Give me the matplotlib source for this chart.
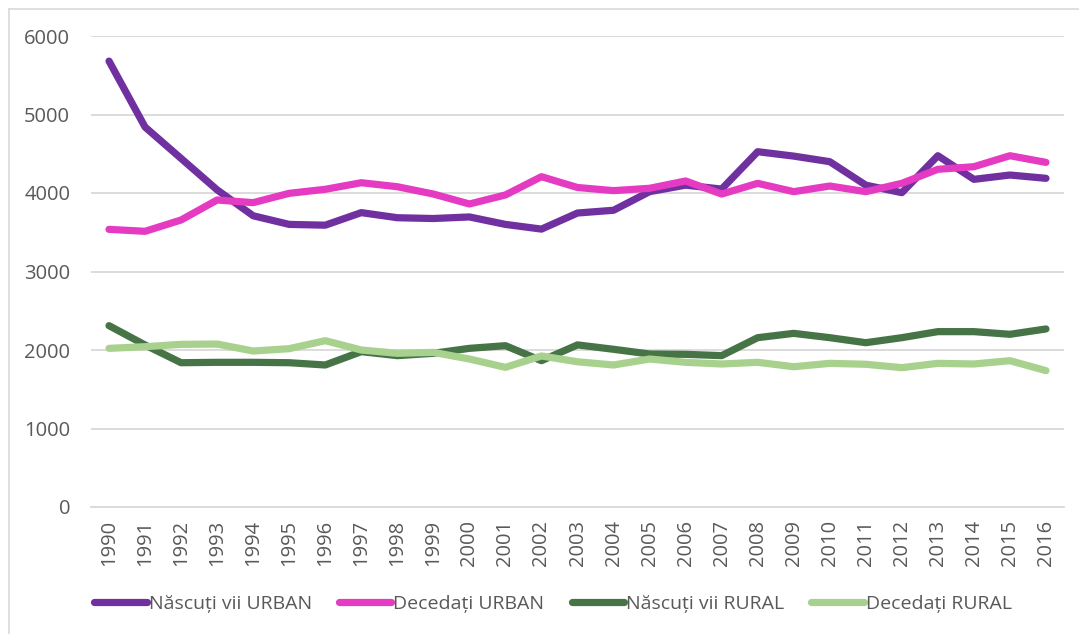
import matplotlib
matplotlib.use("Agg")
import matplotlib.pyplot as plt
from matplotlib.lines import Line2D

years = [str(y) for y in range(1990, 2017)]

nascuti_urban = [5680, 4840, 4440, 4040, 3710, 3600, 3590, 3750, 3685, 3675, 3695, 3600,
                 3540, 3745, 3780, 4017, 4100, 4050, 4526, 4470, 4399, 4100, 4004, 4475,
                 4174, 4229, 4187]
decedati_urban = [3537, 3512, 3656, 3911, 3877, 3996, 4047, 4131, 4080, 3987, 3860, 3975,
                  4208, 4070, 4030, 4060, 4153, 3987, 4123, 4017, 4089, 4017, 4123, 4302,
                  4335, 4475, 4390]
nascuti_rural = [2310, 2064, 1838, 1843, 1843, 1838, 1809, 1979, 1928, 1958, 2021, 2055,
                 1864, 2065, 2009, 1949, 1945, 1928, 2157, 2212, 2157, 2093, 2157, 2234,
                 2234, 2200, 2268]
decedati_rural = [2021, 2042, 2072, 2076, 1987, 2017, 2119, 2000, 1958, 1970, 1885, 1779,
                  1924, 1850, 1809, 1885, 1843, 1822, 1843, 1787, 1830, 1818, 1775, 1830,
                  1822, 1864, 1737]

series_names = ["Născuți vii URBAN", "Decedați URBAN", "Născuți vii RURAL", "Decedați RURAL"]
series_vals = [nascuti_urban, decedati_urban, nascuti_rural, decedati_rural]
colors = ["#7030A0", "#E53BC3", "#467447", "#A9D18E"]

yticks = [0, 1000, 2000, 3000, 4000, 5000, 6000]

plt.rcParams['font.family'] = ['Open Sans', 'DejaVu Sans']
W, H = 1079, 634
fig = plt.figure(figsize=(W / 100, H / 100), dpi=100)
ax = fig.add_axes([91 / W, 1 - 507 / H, 973 / W, 471 / H])

x = list(range(len(years)))
for name, vals, c in zip(series_names, series_vals, colors):
    ax.plot(x, vals, color=c, lw=5.2, solid_capstyle='round', solid_joinstyle='round', label=name)

ax.set_xlim(-0.5, len(years) - 0.5)
ax.set_ylim(0, 6000)
ax.set_yticks(yticks)
ax.set_yticklabels([str(v) for v in yticks])
ax.set_xticks(x)
ax.set_xticklabels(years, rotation=90)
ax.grid(axis='y', color='#d9d9d9', lw=1.3)
ax.set_axisbelow(True)
for s in ['top', 'right', 'left']:
    ax.spines[s].set_visible(False)
ax.spines['bottom'].set_color('#d9d9d9')
ax.spines['bottom'].set_linewidth(1.3)
ax.tick_params(axis='both', length=0, colors='#595959', labelsize=14.5)
ax.tick_params(axis='y', pad=15)
ax.tick_params(axis='x', pad=9)

# chart frame
fig.add_artist(Line2D([8.5 / W, 8.5 / W], [0, 1 - 8.5 / H], transform=fig.transFigure, color='#d9d9d9', lw=1.2))
fig.add_artist(Line2D([8.5 / W, 1], [1 - 8.5 / H, 1 - 8.5 / H], transform=fig.transFigure, color='#d9d9d9', lw=1.2))

leg = fig.legend(loc='center', bbox_to_anchor=(553 / W, 1 - 604 / H), ncol=4, frameon=False,
                 fontsize=14, handlelength=2.7, handletextpad=0.1, columnspacing=1.4,
                 labelcolor='#595959')
for h in leg.get_lines():
    h.set_linewidth(5.2)

fig.savefig("out.png", dpi=100)
